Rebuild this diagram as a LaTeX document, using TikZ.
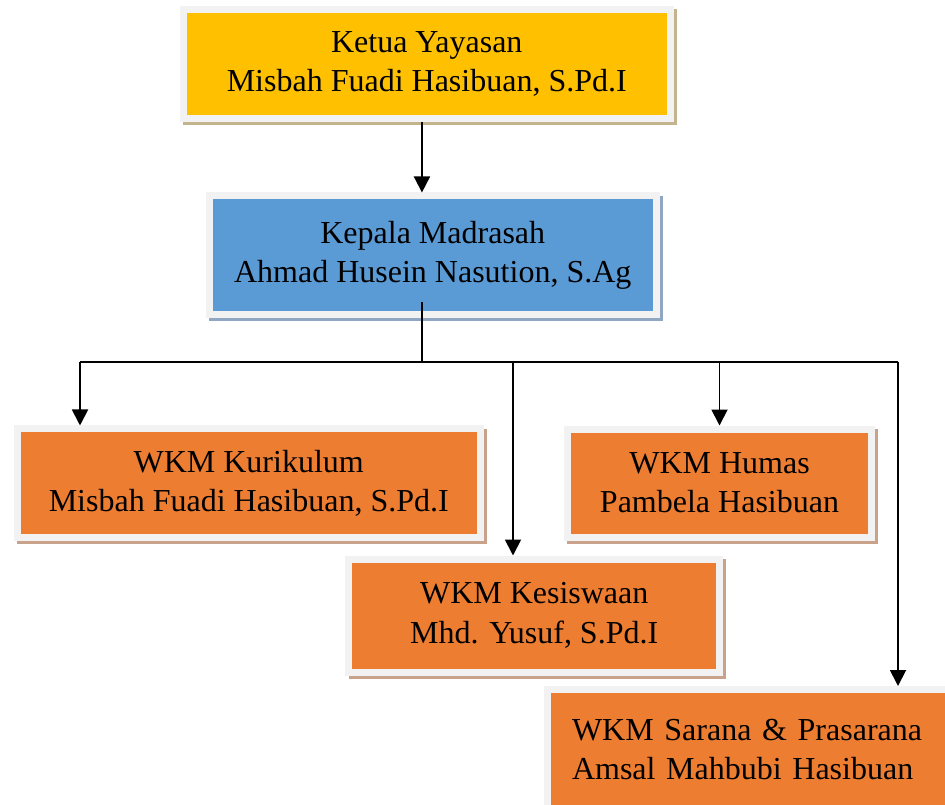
\documentclass[tikz,border=0pt]{standalone}
\usepackage{fontspec}
\setmainfont{Liberation Serif}
\usetikzlibrary{arrows.meta}
\definecolor{rimgray}{HTML}{F2F2F2}
\definecolor{headfill}{HTML}{FFC000}
\definecolor{headshade}{HTML}{C4B48E}
\definecolor{leadfill}{HTML}{5B9BD5}
\definecolor{leadshade}{HTML}{8FA7C2}
\definecolor{unitfill}{HTML}{ED7D31}
\definecolor{unitshade}{HTML}{C8A28A}
\definecolor{darkline}{HTML}{000000}
\tikzset{
  orgbox/.style={rectangle, draw=rimgray, line width=5.25pt, align=center, inner sep=0pt,
    font=\fontsize{24}{29.5}\selectfont,
    preaction={draw=#1, fill=#1, line width=5.25pt, transform canvas={shift={(2.6pt,-2.6pt)}}}},
  headbox/.style={orgbox=headshade, fill=headfill},
  leadbox/.style={orgbox=leadshade, fill=leadfill},
  unitbox/.style={orgbox=unitshade, fill=unitfill},
  flow/.style={-{Triangle[length=12pt, width=12pt]}, line width=1.4pt, draw=darkline},
  link/.style={line width=1.4pt, draw=darkline}
}

\begin{document}
\begin{tikzpicture}[x=0.75pt, y=-0.75pt]
\useasboundingbox (0,0) rectangle (945,805);
\clip (0,0) rectangle (945,805);

\node[headbox, minimum width=364.9pt, minimum height=82.1pt] (ketua) at (426.75, 63.75)
  {Ketua Yayasan\\Misbah Fuadi Hasibuan, S.Pd.I};
\node[leadbox, minimum width=334.9pt, minimum height=88.9pt] (kepala) at (432.75, 255.25)
  {Kepala Madrasah\\Ahmad Husein Nasution, S.Ag};

\node[unitbox, minimum width=347.6pt, minimum height=81.4pt] (kurikulum) at (248.75, 483.25)
  {WKM Kurikulum\\Misbah Fuadi Hasibuan, S.Pd.I};
\node[unitbox, minimum width=228pt, minimum height=81pt] (humas) at (719.5, 483)
  {WKM Humas\\Pambela Hasibuan};
\node[unitbox, minimum width=277.9pt, minimum height=84.75pt] (kesiswaan) at (534.25, 615.5)
  {WKM Kesiswaan\\Mhd. Yusuf, S.Pd.I};
\node[unitbox, minimum width=315pt, minimum height=90pt, text width=277.5pt, align=left] (sarana) at (757, 749.5)
  {WKM Sarana \& Prasarana\\Amsal Mahbubi Hasibuan};

% bus line under the head of school
\coordinate (hub) at (422, 362);
\coordinate (busL) at (80, 362);
\coordinate (busR) at (898, 362);
\coordinate (busK) at (513, 362);

\draw[flow] ([xshift=-3.6pt]ketua.south) -- ([xshift=-3.6pt]ketua.south |- kepala.north);
\draw[link] ([yshift=12pt]kepala.south -| hub) -- (hub);
\draw[link] (busL) -- (busR);
\draw[flow] (busL) -- (busL |- kurikulum.north);
\draw[flow] (busK) -- (busK |- kesiswaan.north);
\draw[flow] (humas.north |- busL) -- (humas.north);
\draw[flow] (busR) -- (busR |- sarana.north);

\end{tikzpicture}
\end{document}
